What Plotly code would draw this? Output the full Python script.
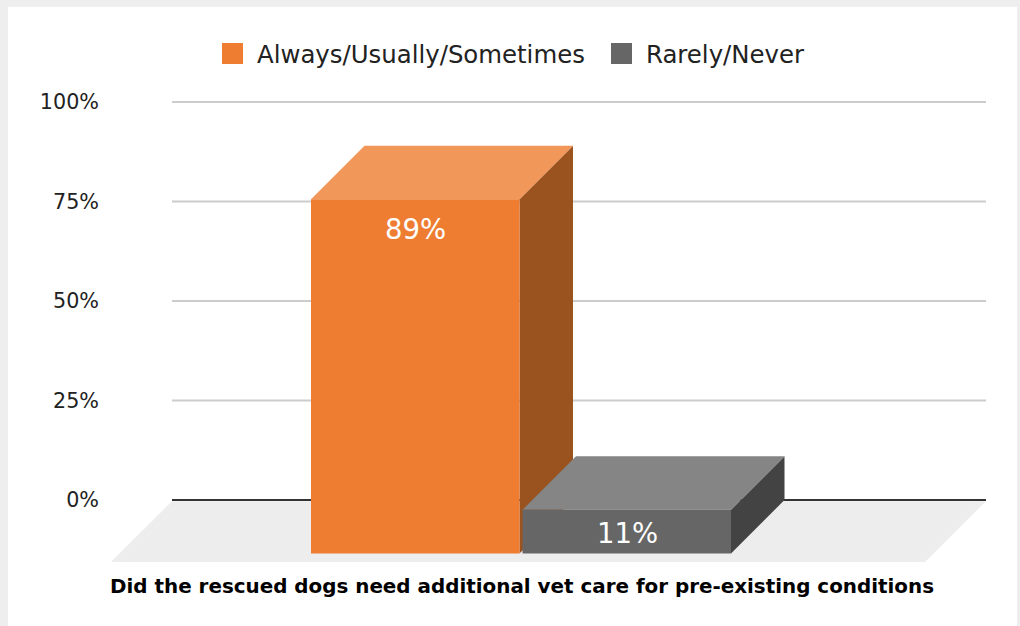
import plotly.graph_objects as go

# Survey result shown as two extruded columns
series_names = ["Always/Usually/Sometimes", "Rarely/Never"]
series_values = [89, 11]
tick_values = [0, 25, 50, 75, 100]
tick_labels = ["0%", "25%", "50%", "75%", "100%"]
chart_title = "Did the rescued dogs need additional vet care for pre-existing conditions"

FRONT = ["#EE7D32", "#666666"]
TOP = ["#F2975A", "#858585"]
SIDE = ["#9A521E", "#434343"]
FLOOR = "#EDEDED"
GRID = "#CCCCCC"
ZERO = "#333333"

W, H = 1020, 626
WALL_L, WALL_R, WALL_T, WALL_B = 172, 986, 102, 500
FLOOR_DX, FLOOR_DY = 61, 62
FONT = "DejaVu Sans"

# Extrusion depth expressed in axis units (x is a 0..1 band, y is percent)
X_UNIT = WALL_R - WALL_L
Y_UNIT = (WALL_B - WALL_T) / 100
DX = 53.5 / X_UNIT
DY = 53.5 / Y_UNIT
BAR_W = 208.5 / X_UNIT
GAP = 3 / X_UNIT
CENTER = (574.5 - WALL_L) / X_UNIT
FLOOR_X = FLOOR_DX / X_UNIT
FLOOR_Y = FLOOR_DY / Y_UNIT


def px(x):
    return x / W


def py(y):
    return 1 - y / H


def polygon(xs, ys, color):
    return go.Scatter(
        x=xs + xs[:1], y=ys + ys[:1], mode="lines", fill="toself",
        fillcolor=color, line=dict(width=0),
        showlegend=False, hoverinfo="skip",
    )


def rule(y, color, width):
    return go.Scatter(
        x=[0, 1], y=[y, y], mode="lines", line=dict(color=color, width=width),
        showlegend=False, hoverinfo="skip",
    )


fig = go.Figure()

# Wall gridlines, then the floor plane and the baseline
for tick in tick_values[1:]:
    fig.add_trace(rule(tick, GRID, 2))
fig.add_trace(polygon(
    [0, 1, 1 - FLOOR_X, -FLOOR_X],
    [-0.3, -0.3, -FLOOR_Y, -FLOOR_Y],
    FLOOR,
))
fig.add_trace(rule(0, ZERO, 2))

annotations = []
for i, value in enumerate(series_values):
    back_l = CENTER - BAR_W - GAP / 2 if i == 0 else CENTER + GAP / 2
    back_r = back_l + BAR_W
    front_l, front_r = back_l - DX, back_r - DX
    front_top = value - DY
    front_bot = -DY
    # Side, top and front faces, back to front
    fig.add_trace(polygon([front_r, back_r, back_r, front_r],
                          [front_top, value, 0, front_bot], SIDE[i]))
    fig.add_trace(polygon([front_l, back_l, back_r, front_r],
                          [front_top, value, value, front_top], TOP[i]))
    fig.add_trace(polygon([front_l, front_r, front_r, front_l],
                          [front_bot, front_bot, front_top, front_top], FRONT[i]))
    annotations.append(dict(
        x=(front_l + front_r) / 2, y=front_top, xref="x", yref="y",
        xanchor="center", yanchor="middle", xshift=0.5,
        text=f"{value}%", showarrow=False, yshift=-30 if i == 0 else -23.5,
        font=dict(family=FONT, size=27.5, color="#FFFFFF"),
    ))

# Legend row above the plot
legend_swatches = [222, 611]
legend_text_x = [255, 644]
shapes = [dict(type="rect", xref="paper", yref="paper", layer="below",
               x0=px(8), x1=px(1017), y0=0, y1=py(7),
               fillcolor="#FFFFFF", line_width=0)]
for name, sx, tx, color in zip(series_names, legend_swatches, legend_text_x, FRONT):
    shapes.append(dict(type="rect", xref="paper", yref="paper",
                       x0=px(sx), x1=px(sx + 21), y0=py(64), y1=py(43),
                       fillcolor=color, line=dict(color=color, width=0)))
    annotations.append(dict(
        x=px(tx), y=py(55), xref="paper", yref="paper",
        xanchor="left", yanchor="middle",
        text=name, showarrow=False,
        font=dict(family=FONT, size=24.4, color="#222222"),
    ))

annotations.append(dict(
    x=px(521.5), y=py(586), xref="paper", yref="paper",
    xanchor="center", yanchor="middle",
    text=f"<b>{chart_title}</b>", showarrow=False,
    font=dict(family=FONT, size=19.9, color="#000000"),
))

fig.update_layout(
    width=W, height=H,
    margin=dict(l=0, r=0, t=0, b=0, autoexpand=False),
    paper_bgcolor="#EEEEEE",
    plot_bgcolor="rgba(0,0,0,0)",
    showlegend=False,
    shapes=shapes,
    annotations=annotations,
    xaxis=dict(
        domain=[px(WALL_L - FLOOR_DX), px(WALL_R)], range=[-FLOOR_X, 1],
        showgrid=False, zeroline=False, showticklabels=False, ticks="",
        fixedrange=True,
    ),
    yaxis=dict(
        domain=[py(WALL_B + FLOOR_DY), py(WALL_T - 2)],
        range=[-FLOOR_Y, 100 + 2 / Y_UNIT],
        tickvals=tick_values, ticktext=tick_labels,
        ticks="", ticklabelstandoff=11,
        tickfont=dict(family=FONT, size=20.7, color="#222222"),
        showgrid=False, zeroline=False,
        showline=False, fixedrange=True,
    ),
)

fig.write_html("out.html", config=dict(displayModeBar=False))
